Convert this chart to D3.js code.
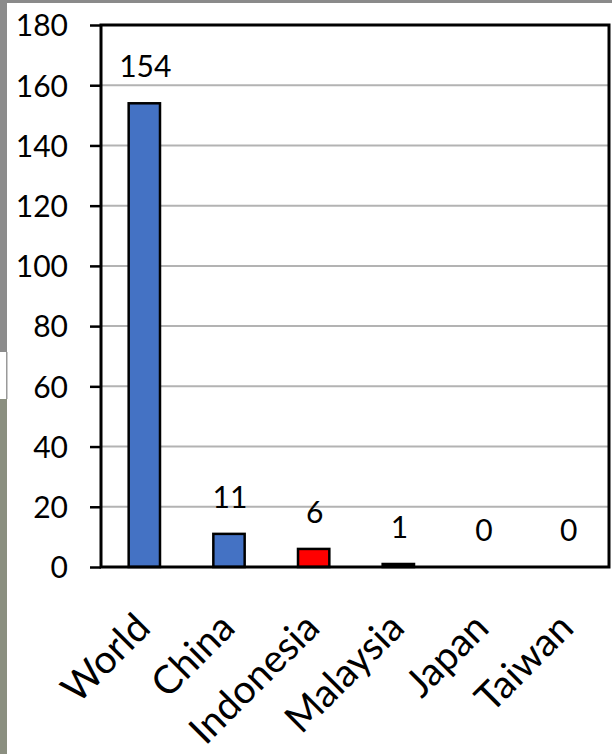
<!DOCTYPE html>
<html>
<head>
<meta charset="utf-8">
<script src="https://cdn.jsdelivr.net/npm/d3@7"></script>
<style>
  html, body { margin: 0; padding: 0; background: #fff; }
  svg { display: block; }
  text { font-family: Lato, "Noto Sans", sans-serif; fill: #000; }
</style>
</head>
<body>
<svg id="chart" width="612" height="754"></svg>
<script>
// Chart data
const categories = ["World", "China", "Indonesia", "Malaysia", "Japan", "Taiwan"];
const counts = [154, 11, 6, 1, 0, 0];
const barColors = ["#4472C4", "#4472C4", "#FF0000", "#000000", "#4472C4", "#4472C4"];
const yTicks = [0, 20, 40, 60, 80, 100, 120, 140, 160, 180];

const svg = d3.select("#chart");
const W = 612, H = 754;
const plot = { left: 101, right: 609, top: 25, bottom: 567 };

// Edge strips of the surrounding page
svg.append("rect").attr("x", 0).attr("y", 0).attr("width", W).attr("height", 3).attr("fill", "#8a8a8a");
svg.append("rect").attr("x", 0).attr("y", 0).attr("width", 7).attr("height", 352).attr("fill", "#8c8c8c");
svg.append("rect").attr("x", 6).attr("y", 352).attr("width", 1.5).attr("height", 47).attr("fill", "#9a9a9a");
svg.append("rect").attr("x", 0).attr("y", 399).attr("width", 7).attr("height", H - 399).attr("fill", "#8b8f80");

const x = d3.scaleBand()
  .domain(categories)
  .range([plot.left, plot.right])
  .paddingInner(0.63)
  .paddingOuter(0.315);

const y = d3.scaleLinear()
  .domain([0, 180])
  .range([plot.bottom, plot.top]);

// Horizontal gridlines
svg.append("g")
  .selectAll("line")
  .data(yTicks.filter(t => t > 0 && t < 180))
  .join("line")
  .attr("x1", plot.left).attr("x2", plot.right)
  .attr("y1", d => y(d)).attr("y2", d => y(d))
  .attr("stroke", "#b3b3b3")
  .attr("stroke-width", 2);

// Y axis with outward ticks
const yAxis = d3.axisLeft(y)
  .tickValues(yTicks)
  .tickSize(11)
  .tickPadding(0)
  .tickFormat(d3.format("d"));

const gy = svg.append("g")
  .attr("transform", `translate(${plot.left},0)`)
  .call(yAxis);
gy.select(".domain").remove();
gy.selectAll(".tick line").attr("stroke", "#000").attr("stroke-width", 2.5);
gy.selectAll(".tick text")
  .attr("x", -33)
  .attr("dy", "0.36em")
  .style("font-size", "30px")
  .style("font-family", "Lato, 'Noto Sans', sans-serif")
  .attr("fill", "#000");

// Bars
svg.append("g")
  .selectAll("rect")
  .data(categories)
  .join("rect")
  .attr("x", d => x(d) + 1)
  .attr("width", x.bandwidth())
  .attr("y", (d, i) => y(counts[i]))
  .attr("height", (d, i) => y(0) - y(counts[i]))
  .attr("fill", (d, i) => barColors[i])
  .attr("stroke", "#000")
  .attr("stroke-width", 2.5)
  .style("display", (d, i) => counts[i] > 0 ? null : "none");

// Frame around the plot area
svg.append("rect")
  .attr("x", plot.left).attr("y", plot.top)
  .attr("width", plot.right - plot.left)
  .attr("height", plot.bottom - plot.top)
  .attr("fill", "none")
  .attr("stroke", "#000")
  .attr("stroke-width", 3);

// Value labels above bars
svg.append("g")
  .selectAll("text")
  .data(categories)
  .join("text")
  .attr("x", d => x(d) + x.bandwidth() / 2 + 2)
  .attr("y", (d, i) => y(counts[i]) - 26)
  .attr("text-anchor", "middle")
  .style("font-size", "30px")
  .text((d, i) => counts[i]);

// Rotated category labels
svg.append("g")
  .selectAll("text")
  .data(categories)
  .join("text")
  .attr("transform", d => `translate(${x(d) + x.bandwidth() / 2 + 9},630) rotate(-45)`)
  .attr("text-anchor", "end")
  .style("font-size", "39px")
  .text(d => d);
</script>
</body>
</html>
